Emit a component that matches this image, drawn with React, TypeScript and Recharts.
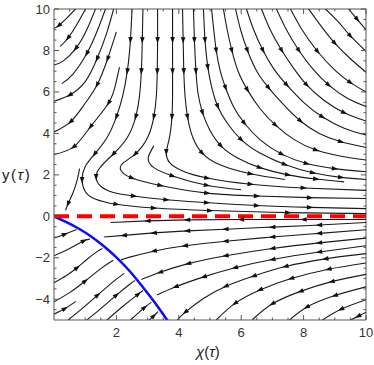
import React from 'react';
import { ComposedChart, Line, XAxis, YAxis, ReferenceLine } from 'recharts';

type Pt = [number, number];

// streamlines, points listed in the direction of flow
const upperLeftLines: Pt[][] = [
  [[0.69, 10], [0.4, 9.55], [0.15, 9.2], [0, 9.06]],
  [[1.01, 10], [0.75, 9.3], [0.45, 8.6], [0.2, 8.2]],
  [[1.33, 10], [1.05, 9.0], [0.7, 8.1], [0.3, 7.5], [0, 7.3]],
  [[1.65, 10], [1.4, 9.0], [1.05, 7.85], [0.6, 6.85], [0.25, 6.4]],
  [[1.91, 10], [1.68, 8.8], [1.38, 7.6], [1.0, 6.5], [0.5, 5.85], [0, 5.55]],
  [[2.0, 8.9], [1.72, 7.6], [1.38, 6.34], [0.96, 5.37], [0.53, 4.56], [0, 4.07]],
  [[2.1, 7.2], [1.97, 6.34], [1.75, 5.47], [1.17, 4.32], [0.63, 3.35], [0, 2.98]],
  [[0.82, 2.3], [0.74, 1.73], [0.6, 1.1], [0.45, 0.6], [0.37, 0.28]],
];

const middleLines: Pt[][] = [
  [[2.5, 10], [2.45, 8.5], [2.35, 7], [2.2, 5.8], [2.0, 4.8], [1.7, 3.8], [1.3, 3.0], [1.0, 2.4], [0.9, 1.75], [1.0, 1.2], [1.3, 0.85], [2.0, 0.58], [3.2, 0.4], [5, 0.28], [7.5, 0.18], [10, 0.13]],
  [[2.85, 10], [2.83, 8.5], [2.8, 7], [2.74, 5.8], [2.62, 4.8], [2.35, 3.8], [1.9, 3.0], [1.5, 2.4], [1.35, 1.9], [1.5, 1.45], [1.9, 1.15], [2.56, 0.98], [3.6, 0.8], [4.9, 0.66], [6.5, 0.52], [8.2, 0.43], [10, 0.37]],
  [[3.32, 10], [3.32, 8.5], [3.31, 7], [3.28, 5.8], [3.2, 4.8], [3.0, 3.8], [2.6, 3.0], [2.2, 2.55], [2.15, 2.2], [2.5, 1.85], [3.41, 1.49], [4.91, 1.12], [6.5, 0.98], [8.2, 0.9], [10, 0.86]],
  [[3.2, 3.4], [3.02, 2.8], [3.2, 2.35], [3.8, 1.95], [4.9, 1.5], [6.0, 1.28]],
  [[3.8, 10], [3.8, 8.5], [3.8, 7], [3.8, 5.8], [3.78, 4.8], [3.7, 3.8], [3.6, 3.1], [3.7, 2.6], [4.1, 2.2], [4.91, 1.85], [6.3, 1.55], [8, 1.37], [10, 1.25]],
  [[4.12, 10], [4.14, 8.5], [4.16, 7], [4.2, 5.8], [4.28, 4.8], [4.45, 3.8], [4.75, 3.05], [5.3, 2.5], [6.3, 2.05], [7.4, 1.78]],
];

const upperRightLines: Pt[][] = [
  [[4.47, 10], [4.5, 8.5], [4.55, 7], [4.62, 5.9], [4.76, 5.0], [4.98, 4.2], [5.35, 3.4], [5.9, 2.8], [6.6, 2.35], [7.5, 2.0], [8.4, 1.8], [9.3, 1.66]],
  [[4.79, 10], [4.84, 8.5], [4.93, 7.2], [5.06, 6.2], [5.25, 5.3], [5.55, 4.5], [6.0, 3.7], [6.6, 3.05], [7.4, 2.5], [8.3, 2.1], [9.2, 1.88], [10, 1.78]],
  [[5.05, 10], [5.12, 9.0], [5.2, 8.0], [5.33, 7.0], [5.5, 6.2], [5.75, 5.3], [6.1, 4.5], [6.6, 3.7], [7.3, 3.0], [8.1, 2.55], [9.0, 2.3], [10, 2.15]],
  [[5.43, 10], [5.55, 9.0], [5.7, 8.0], [5.9, 7.0], [6.2, 6.1], [6.6, 5.2], [7.1, 4.4], [7.7, 3.7], [8.4, 3.2], [9.2, 2.9], [10, 2.72]],
  [[5.82, 10], [5.98, 9.0], [6.2, 8.0], [6.5, 7.0], [6.88, 6.2], [7.35, 5.4], [7.9, 4.6], [8.5, 4.0], [9.2, 3.6], [10, 3.32]],
  [[6.17, 10], [6.4, 9.0], [6.7, 8.0], [7.05, 7.1], [7.46, 6.34], [8.0, 5.5], [8.6, 4.8], [9.3, 4.25], [10, 3.92]],
  [[6.65, 10], [6.93, 9.0], [7.3, 8.0], [7.7, 7.1], [8.1, 6.34], [8.65, 5.6], [9.3, 5.0], [10, 4.6]],
  [[7.13, 10], [7.45, 9.0], [7.85, 8.0], [8.3, 7.1], [8.8, 6.34], [9.4, 5.7], [10, 5.3]],
  [[7.58, 10], [7.95, 9.0], [8.45, 7.95], [9.0, 7.05], [9.5, 6.45], [10, 6.0]],
  [[8.16, 10], [8.55, 9.2], [9.0, 8.35], [9.5, 7.6], [10, 6.95]],
  [[8.7, 10], [9.1, 9.4], [9.5, 8.7], [10, 7.96]],
  [[9.44, 10], [9.72, 9.5], [10, 9.0]],
];

const lowerLeftLines: Pt[][] = [
  [[0, -1.05], [0.35, -0.86], [0.72, -0.64]],
  [[0, -1.9], [0.5, -1.55], [0.96, -1.18], [1.15, -1.1]],
  [[0, -3.2], [0.4, -2.85], [0.74, -2.48], [1.05, -2.08], [1.38, -1.7], [1.55, -1.55]],
  [[0, -4.12], [0.5, -3.68], [1.0, -3.12], [1.5, -2.52], [1.9, -2.12]],
  [[0, -4.72], [0.35, -4.45], [0.7, -4.1]],
  [[0.45, -5], [0.9, -4.45], [1.4, -3.8], [1.9, -3.15], [2.25, -2.75]],
  [[1.05, -5], [1.5, -4.45], [2.0, -3.8], [2.45, -3.25], [2.6, -3.1]],
  [[1.7, -5], [2.2, -4.35], [2.7, -3.75], [2.85, -3.58]],
  [[2.45, -5], [2.9, -4.4], [3.12, -4.15]],
  [[3.05, -5], [3.2, -4.8], [3.33, -4.6]],
];

const lowerRightLines: Pt[][] = [
  [[10, -0.15], [8, -0.15], [6, -0.15], [4.27, -0.17], [3, -0.22], [1.81, -0.3]],
  [[10, -0.3], [8.5, -0.42], [7, -0.52], [5.5, -0.62], [4.27, -0.7], [3.2, -0.8], [2.24, -0.92], [1.6, -1.0]],
  [[10, -0.65], [8.5, -0.82], [7, -1.0], [5.5, -1.2], [4.2, -1.42], [3.2, -1.68], [2.4, -1.98], [2.15, -2.1]],
  [[10, -1.05], [8.5, -1.28], [7, -1.55], [5.5, -1.9], [4.3, -2.28], [3.4, -2.7], [2.8, -3.05]],
  [[10, -1.42], [8.5, -1.72], [7, -2.08], [5.8, -2.48], [4.8, -2.92], [3.9, -3.4], [3.3, -3.8]],
  [[10, -1.8], [8.7, -2.05], [7.42, -2.42], [6.4, -2.88], [5.5, -3.38], [4.8, -3.95], [4.21, -4.62], [3.95, -5.0]],
  [[10, -2.25], [8.8, -2.55], [7.6, -3.0], [6.6, -3.55], [5.8, -4.2], [5.2, -5.0]],
  [[10, -2.8], [8.9, -3.15], [7.9, -3.62], [7.0, -4.22], [6.35, -5.0]],
  [[10, -3.4], [9.0, -3.82], [8.1, -4.38], [7.55, -5.0]],
  [[10, -4.02], [9.2, -4.48], [8.6, -5.0]],
  [[10, -4.62], [9.75, -4.82], [9.5, -5.0]],
];

const attractorCurve: Pt[] = [
  [0, 0], [0.4, -0.28], [0.8, -0.6], [1.2, -0.98], [1.6, -1.44], [2.0, -1.98],
  [2.4, -2.6], [2.8, -3.32], [3.2, -4.1], [3.65, -5.05],
];
const zeroLine: Pt[] = [[0, 0], [10, 0]];

const xTicks = [0.5, 1, 1.5, 2, 2.5, 3, 3.5, 4, 4.5, 5, 5.5, 6, 6.5, 7, 7.5, 8, 8.5, 9, 9.5, 10];
const yTicks = [-4.5, -4, -3.5, -3, -2.5, -2, -1.5, -1, -0.5, 0, 0.5, 1, 1.5, 2, 2.5, 3, 3.5, 4, 4.5, 5, 5.5, 6, 6.5, 7, 7.5, 8, 8.5, 9, 9.5, 10];

const PLOT_W = 312;
const PLOT_H = 311;
const pxX = PLOT_W / 10;
const pxY = PLOT_H / 15;
const FRAME = '#555';
const FONT = 'Liberation Sans, Arial, sans-serif';

const allLines = [...upperLeftLines, ...middleLines, ...upperRightLines, ...lowerLeftLines, ...lowerRightLines];

// which points of a streamline get an arrowhead (roughly every 28px)
function arrowFlags(pts: Pt[]) {
  const flags = pts.map(() => false);
  let acc = 0;
  for (let i = 1; i < pts.length - 1; i++) {
    acc += Math.hypot((pts[i][0] - pts[i - 1][0]) * pxX, (pts[i][1] - pts[i - 1][1]) * pxY);
    if (acc >= 26) {
      flags[i] = true;
      acc = 0;
    }
  }
  if (!flags.some(Boolean) && pts.length >= 3) flags[Math.floor(pts.length / 2)] = true;
  return flags;
}

const arrowDot = (pts: Pt[]) => {
  const flags = arrowFlags(pts);
  return (props: any) => {
    const { cx, cy, index } = props;
    const key = `a-${index}`;
    if (cx == null || cy == null || !flags[index]) return <g key={key} />;
    const p = pts[index - 1];
    const n = pts[index + 1];
    const ang = (Math.atan2(-(n[1] - p[1]) * pxY, (n[0] - p[0]) * pxX) * 180) / Math.PI;
    return (
      <path key={key} d="M3.5,0 L-3,-2.3 L-3,2.3 Z" fill="#111"
        transform={`translate(${cx},${cy}) rotate(${ang})`} />
    );
  };
};

const isMajor = (v: number) => Math.abs(v / 2 - Math.round(v / 2)) < 1e-6;
const fmt = (v: number) => (v < 0 ? `\u2212${Math.abs(v)}` : `${v}`);

function XTick(props: any) {
  const { x, y, payload } = props;
  const v = payload.value;
  const len = isMajor(v) ? 5 : 2.5;
  return (
    <g>
      <line x1={x} x2={x} y1={y} y2={y - len} stroke={FRAME} />
      <line x1={x} x2={x} y1={y - PLOT_H} y2={y - PLOT_H + len} stroke={FRAME} />
      {isMajor(v) && (
        <text x={x} y={y + 17} textAnchor="middle" fontSize={13} fontFamily={FONT} fill="#333">{fmt(v)}</text>
      )}
    </g>
  );
}

function YTick(props: any) {
  const { x, y, payload } = props;
  const v = payload.value;
  const len = isMajor(v) ? 5 : 2.5;
  return (
    <g>
      <line x1={x} x2={x + len} y1={y} y2={y} stroke={FRAME} />
      <line x1={x + PLOT_W} x2={x + PLOT_W - len} y1={y} y2={y} stroke={FRAME} />
      {isMajor(v) && (
        <text x={x - 4} y={y + 4.5} textAnchor="end" fontSize={13} fontFamily={FONT} fill="#333">{fmt(v)}</text>
      )}
    </g>
  );
}

const toRows = (pts: Pt[]) => pts.map(([x, y]) => ({ x, y }));

export default function App() {
  return (
    <div style={{ width: 374, height: 365 }}>
      <style>{'body{margin:0}'}</style>
      <ComposedChart width={374} height={365} margin={{ top: 9, right: 8, bottom: 0, left: 0 }}>
        <XAxis
          dataKey="x" type="number" domain={[0, 10]} allowDataOverflow ticks={xTicks} interval={0}
          height={45} tickSize={0} tickMargin={0} tickLine={false} tick={<XTick />}
          axisLine={{ stroke: FRAME }}
          label={{
            content: () => (
              <text x={196} y={357} fontSize={15} fontFamily={FONT} fill="#222">
                <tspan fontStyle="italic">χ</tspan>(<tspan fontStyle="italic">τ</tspan>)
              </text>
            ),
          }}
        />
        <YAxis
          type="number" domain={[-5, 10]} allowDataOverflow ticks={yTicks} interval={0}
          width={54} tickSize={0} tickMargin={0} tickLine={false} tick={<YTick />}
          axisLine={{ stroke: FRAME }}
          label={{
            content: () => (
              <text x={2} y={180} fontSize={15} fontFamily={FONT} fill="#222" letterSpacing={1.5}>
                y(<tspan fontStyle="italic">τ</tspan>)
              </text>
            ),
          }}
        />
        <ReferenceLine y={10} stroke={FRAME} />
        <ReferenceLine x={10} stroke={FRAME} />
        {allLines.map((pts, i) => (
          <Line
            key={`s-${i}`} data={toRows(pts)} dataKey="y" type="natural"
            stroke="#1a1a1a" strokeWidth={1.1} dot={arrowDot(pts)} activeDot={false}
            isAnimationActive={false}
          />
        ))}
        <Line
          data={toRows(attractorCurve)} dataKey="y" type="natural" stroke="#0a0aff"
          strokeWidth={2.5} dot={false} activeDot={false} isAnimationActive={false}
        />
        <Line
          data={toRows(zeroLine)} dataKey="y" type="linear" stroke="#ff0000"
          strokeWidth={4} strokeDasharray="15 8" dot={false} activeDot={false} isAnimationActive={false}
        />
      </ComposedChart>
    </div>
  );
}
